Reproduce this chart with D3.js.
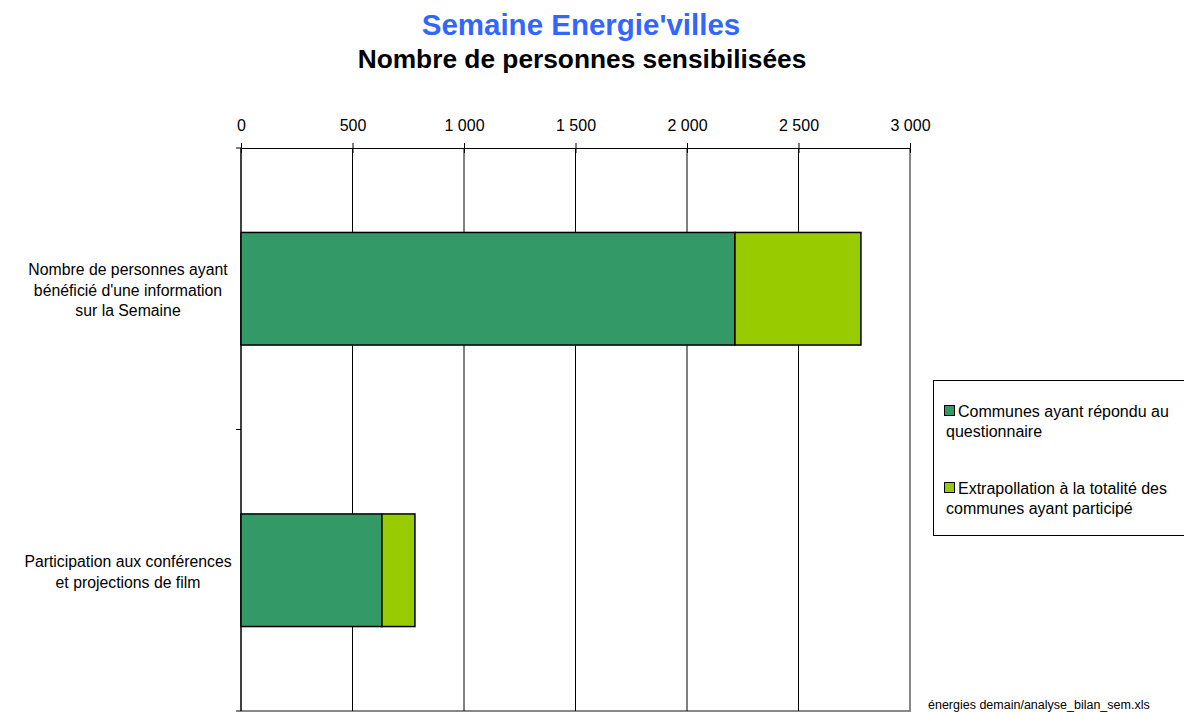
<!DOCTYPE html>
<html>
<head>
<meta charset="utf-8">
<script src="https://cdn.jsdelivr.net/npm/d3@7"></script>
<style>
  body { margin: 0; background: #fff; }
  text { font-family: "Liberation Sans", Arial, sans-serif; }
</style>
</head>
<body>
<div id="chart"></div>
<script>
// Data
var categories = [
    ["Nombre de personnes ayant", "bénéficié d'une information", "sur la Semaine"],
    ["Participation aux conférences", "et projections de film"]
];
var seriesNames = [
    ["Communes ayant répondu au", "questionnaire"],
    ["Extrapollation à la totalité des", "communes ayant participé"]
];
var repondu = [2215, 632];
var extrapolation = [565, 148];
var xTicks = [0, 500, 1000, 1500, 2000, 2500, 3000];
var colors = ["#339966", "#99CC00"];

var svgWidth = 1184;
var svgHeight = 713;

var margin = { top: 148, right: 274, bottom: 2, left: 241 };
var width = 910 - margin.left;
var height = 711 - margin.top;

var svg = d3.select("#chart")
    .append("svg")
    .attr("width", svgWidth)
    .attr("height", svgHeight);

// Titles
svg.append("text")
    .attr("x", 581).attr("y", 35)
    .attr("text-anchor", "middle")
    .attr("font-size", "29.5px").attr("font-weight", "bold")
    .attr("fill", "#3366FF")
    .text("Semaine Energie'villes");
svg.append("text")
    .attr("x", 582).attr("y", 68)
    .attr("text-anchor", "middle")
    .attr("font-size", "26.3px").attr("font-weight", "bold")
    .attr("fill", "#000")
    .text("Nombre de personnes sensibilisées");

var chartGroup = svg.append("g")
    .attr("transform", `translate(${margin.left}, ${margin.top})`);

var xScale = d3.scaleLinear().domain([0, 3000]).range([0, width]);
var yScale = d3.scaleBand().domain(d3.range(categories.length)).range([0, height]);

// plot border (right + bottom gray)
chartGroup.append("path")
    .attr("d", `M${width},0V${height}H0`)
    .attr("fill", "none").attr("stroke", "#888").attr("stroke-width", 2);

// vertical gridlines
chartGroup.selectAll(".grid")
    .data(xTicks.slice(1, -1))
    .enter().append("line")
    .attr("x1", d => xScale(d)).attr("x2", d => xScale(d))
    .attr("y1", 0).attr("y2", height)
    .attr("stroke", "#000").attr("stroke-width", 1);

// top axis
var topAxis = d3.axisTop(xScale).tickValues(xTicks).tickSize(5).tickSizeOuter(0)
    .tickFormat(d => d3.format(",")(d).replace(/,/g, " "));
var gx = chartGroup.append("g").call(topAxis);
gx.select(".domain").attr("stroke", "#000");
gx.selectAll(".tick line").attr("stroke", "#000").attr("y2", 5).attr("y1", -5);
gx.selectAll(".tick text")
    .attr("y", -17)
    .attr("font-size", "16px")
    .attr("font-family", "Liberation Sans, Arial, sans-serif")
    .attr("fill", "#000");

// left axis with ticks at band boundaries
chartGroup.append("line")
    .attr("x1", 0).attr("x2", 0).attr("y1", 0).attr("y2", height)
    .attr("stroke", "#000").attr("stroke-width", 1.5);
chartGroup.selectAll(".ytick")
    .data(d3.range(categories.length + 1))
    .enter().append("line")
    .attr("x1", -5).attr("x2", 0)
    .attr("y1", d => d * yScale.step()).attr("y2", d => d * yScale.step())
    .attr("stroke", "#000");

// bars
var barH = yScale.bandwidth() * 0.4;
var barY = i => yScale(i) + (yScale.bandwidth() - barH) / 2;

chartGroup.selectAll(".bar1")
    .data(repondu)
    .enter().append("rect")
    .attr("x", xScale(0))
    .attr("y", (d, i) => barY(i))
    .attr("width", d => xScale(d) - xScale(0))
    .attr("height", barH)
    .attr("fill", colors[0]).attr("stroke", "#000").attr("stroke-width", 1.5);

chartGroup.selectAll(".bar2")
    .data(extrapolation)
    .enter().append("rect")
    .attr("x", (d, i) => xScale(repondu[i]))
    .attr("y", (d, i) => barY(i))
    .attr("width", d => xScale(d) - xScale(0))
    .attr("height", barH)
    .attr("fill", colors[1]).attr("stroke", "#000").attr("stroke-width", 1.5);

// category labels
categories.forEach(function(lines, i) {
    var cy = yScale(i) + yScale.bandwidth() / 2;
    var t = chartGroup.append("text")
        .attr("text-anchor", "middle")
        .attr("font-size", "15.8px")
        .attr("fill", "#000");
    lines.forEach(function(l, j) {
        t.append("tspan")
            .attr("x", -113)
            .attr("y", cy + (j - (lines.length - 1) / 2) * 20.5 + 7)
            .text(l);
    });
});

// legend
var legend = svg.append("g");
legend.append("rect")
    .attr("x", 933.5).attr("y", 380.5)
    .attr("width", 260).attr("height", 155)
    .attr("fill", "#fff").attr("stroke", "#000");
seriesNames.forEach(function(lines, i) {
    var y0 = 405 + i * 77;
    legend.append("rect")
        .attr("x", 944.5).attr("y", y0 + 0.5)
        .attr("width", 10).attr("height", 10)
        .attr("fill", colors[i]).attr("stroke", "#000");
    lines.forEach(function(l, j) {
        legend.append("text")
            .attr("x", j === 0 ? 958 : 946)
            .attr("y", y0 + 12 + j * 20)
            .attr("font-size", "16px")
            .attr("fill", "#000")
            .text(l);
    });
});

// source note
svg.append("text")
    .attr("x", 928).attr("y", 709)
    .attr("font-size", "12.5px")
    .attr("fill", "#000")
    .text("énergies demain/analyse_bilan_sem.xls");
</script>
</body>
</html>
